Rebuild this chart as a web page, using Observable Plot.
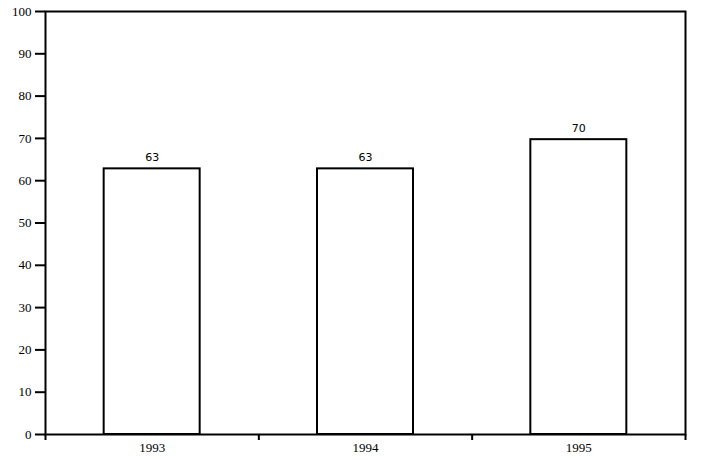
<!DOCTYPE html>
<html>
<head>
<meta charset="utf-8">
<script src="https://cdn.jsdelivr.net/npm/d3@7"></script>
<script src="https://cdn.jsdelivr.net/npm/@observablehq/plot@0.6"></script>
<style>
  html, body { margin: 0; padding: 0; background: white; }
</style>
</head>
<body>
<div id="chart"></div>
<script>
const years = ["1993", "1994", "1995"];
const values = [62.8, 62.8, 69.7];
const valueLabels = ["63", "63", "70"];
const yTicks = [0, 10, 20, 30, 40, 50, 60, 70, 80, 90, 100];

const data = years.map((y, i) => ({i, year: y, value: values[i], label: valueLabels[i]}));
const boundaries = d3.range(years.length + 1);
const centers = years.map((_, i) => i + 0.5);
const serif = "Liberation Serif";

const chart = Plot.plot({
  width: 704,
  height: 460,
  marginLeft: 45,
  marginRight: 19,
  marginTop: 11,
  marginBottom: 26,
  style: {background: "white", color: "black"},
  x: {domain: [0, years.length], axis: null},
  y: {domain: [0, 100], axis: null},
  marks: [
    Plot.rectY(data, {x1: d => d.i + 0.275, x2: d => d.i + 0.725, y: "value", fill: "white", stroke: "black", strokeWidth: 2}),
    Plot.text(data, {x: d => d.i + 0.5, y: "value", text: "label", dy: -11, fontFamily: "Tahoma, 'DejaVu Sans', sans-serif", fontSize: 11, fill: "black"}),
    Plot.frame({stroke: "black", strokeWidth: 2}),
    Plot.axisY({ticks: yTicks, tickSize: 10, tickPadding: 4, strokeWidth: 2, label: null, fontSize: 13, fontFamily: serif}),
    Plot.axisX({ticks: boundaries, tickSize: 6, tickFormat: () => "", strokeWidth: 2, label: null}),
    Plot.axisX({ticks: centers, tickSize: 0, tickPadding: 8, tickFormat: v => years[Math.floor(v)], label: null, fontSize: 13, fontFamily: serif})
  ]
});
document.getElementById("chart").appendChild(chart);
</script>
</body>
</html>
